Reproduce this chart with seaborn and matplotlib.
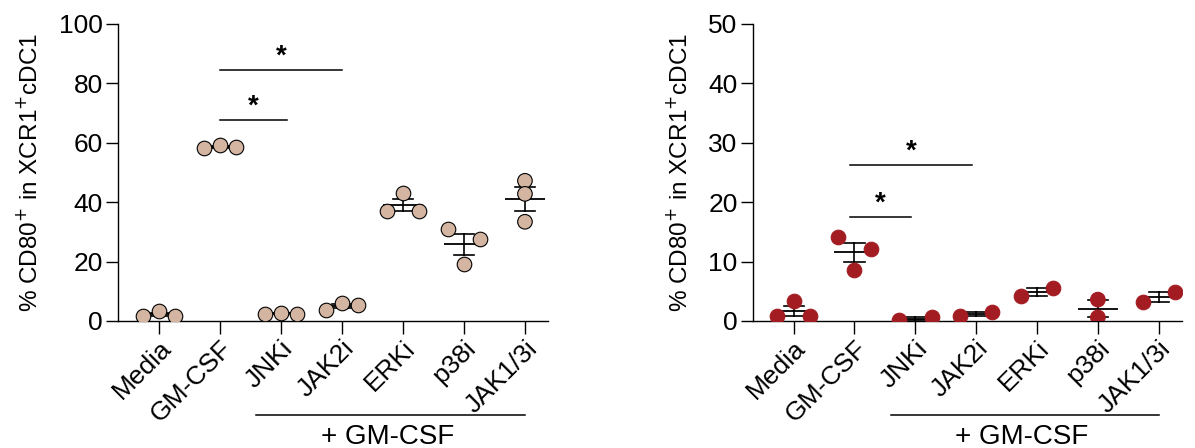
import numpy as np
import pandas as pd
import matplotlib.pyplot as plt
import seaborn as sns

# categorias e valores (ordem: esquerda, centro, direita)
grupos = ['Media', 'GM-CSF', 'JNKi', 'JAK2i', 'ERKi', 'p38i', 'JAK1/3i']

esquerda = {
    'Media': [1.8, 3.3, 1.8],
    'GM-CSF': [58.1, 59.3, 58.7],
    'JNKi': [2.4, 2.8, 2.4],
    'JAK2i': [3.7, 6.2, 5.3],
    'ERKi': [37.1, 43.0, 37.1],
    'p38i': [31.1, 19.1, 27.5],
    'JAK1/3i': [47.2, 42.8, 33.4],
}
direita = {
    'Media': [0.8, 3.4, 0.8],
    'GM-CSF': [14.1, 8.5, 12.1],
    'JNKi': [0.15, 0.6],
    'JAK2i': [0.8, 1.5],
    'ERKi': [4.2, 5.6],
    'p38i': [3.6, 0.6],
    'JAK1/3i': [3.2, 4.8],
}

# coluna de cada ponto dentro do grupo (0 = esq, 1 = centro, 2 = dir), estilo GraphPad
colunas_esq = {
    'Media': [0, 1, 2], 'GM-CSF': [0, 1, 2], 'JNKi': [0, 1, 2], 'JAK2i': [0, 1, 2],
    'ERKi': [0, 1, 2], 'p38i': [0, 1, 2], 'JAK1/3i': [1, 1, 1],
}
colunas_dir = {
    'Media': [0, 1, 2], 'GM-CSF': [0, 1, 2], 'JNKi': [0, 2], 'JAK2i': [0, 2],
    'ERKi': [0, 2], 'p38i': [1, 1], 'JAK1/3i': [0, 2],
}

# barras de significância: (início, fim, altura, texto)
sig_esquerda = [(1, 2.1, 67.7, '*'), (1, 3, 84.5, '*')]
sig_direita = [(0.93, 1.93, 17.5, '*'), (0.93, 2.93, 26.3, '*')]

plt.rcParams['font.family'] = ['Liberation Sans', 'DejaVu Sans']
FS = 19


def para_df(d, cols):
    linhas = [(g, v, c) for g in grupos for v, c in zip(d[g], cols[g])]
    return pd.DataFrame(linhas, columns=['grupo', 'valor', 'coluna'])


def painel(ax, d, cols, cor, borda, ymax, passo, sigs):
    df = para_df(d, cols)
    sns.stripplot(data=df, x='grupo', y='valor', order=grupos, ax=ax,
                  hue='coluna', hue_order=[0, 1, 2], palette=[cor] * 3,
                  dodge=True, jitter=False, legend=False,
                  size=10.5, edgecolor=borda, linewidth=0.8, zorder=3)
    # média ± EPM (atrás dos pontos)
    sns.pointplot(data=df, x='grupo', y='valor', order=grupos, ax=ax,
                  errorbar='se', capsize=0.33, linestyle='none',
                  marker='_', markersize=29, markeredgewidth=1.3,
                  color='black', err_kws={'linewidth': 1.2})
    for ln in ax.lines:
        ln.set_zorder(2)

    ax.set_xlim(-0.67, 6.38)
    ax.set_ylim(0, ymax)
    ax.set_yticks(np.arange(0, ymax + 1, passo))
    sns.despine(ax=ax)
    ax.spines['left'].set_linewidth(1)
    ax.spines['bottom'].set_linewidth(1)
    ax.tick_params(axis='both', length=9, width=1, labelsize=FS, pad=2)
    ax.set_xlabel('')
    ax.set_ylabel('% CD80$^{+}$ in XCR1$^{+}$cDC1', fontsize=17.5, labelpad=12)
    ax.set_xticks(range(len(grupos)))
    ax.set_xticklabels(grupos, rotation=45, ha='right', rotation_mode='anchor')

    for x0, x1, h, txt in sigs:
        ax.plot([x0, x1], [h, h], color='black', lw=1.1)
        ax.text((x0 + x1) / 2, h, txt, ha='center', va='bottom',
                fontsize=20, fontweight='bold')

    tr = ax.get_xaxis_transform()
    ax.plot([1.6, 6.0], [-0.316, -0.316], color='black', lw=1.1,
            transform=tr, clip_on=False)
    ax.text(3.75, -0.39, '+ GM-CSF', transform=tr, ha='center', va='center',
            fontsize=FS + 1)


fig = plt.figure(figsize=(11.95, 4.48), dpi=100)
ax1 = fig.add_axes([0.0987, 0.2835, 0.36, 0.663])
ax2 = fig.add_axes([0.630, 0.2835, 0.359, 0.663])

painel(ax1, esquerda, colunas_esq, '#d3b5a1', 'black', 100, 20, sig_esquerda)
painel(ax2, direita, colunas_dir, '#a31c22', '#a31c22', 50, 10, sig_direita)

fig.savefig('out.png', dpi=100)
